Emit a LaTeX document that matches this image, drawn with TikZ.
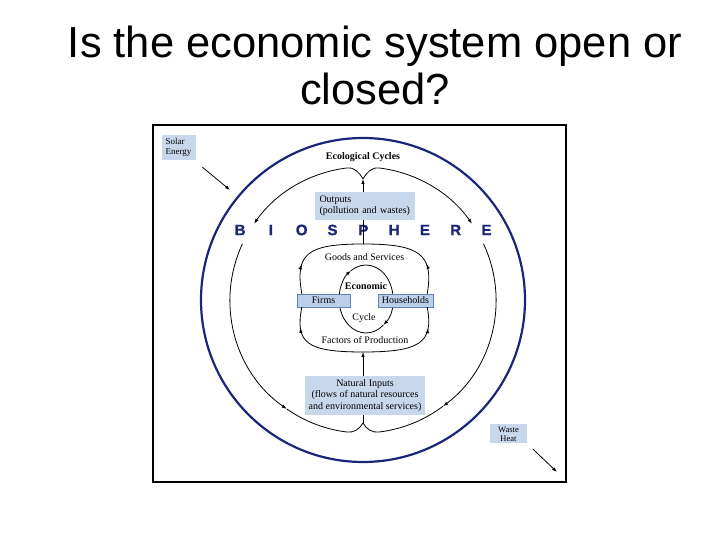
\documentclass[tikz,border=0pt]{standalone}
\usepackage{fontspec}
\setmainfont{Liberation Serif}
\newfontfamily\headfont{Liberation Sans}
\newfontfamily\blackfont[FakeBold=1.2]{Liberation Sans Bold}
\usetikzlibrary{arrows.meta,positioning,calc,decorations.markings}
\definecolor{biosphere}{RGB}{28,38,120}
\definecolor{boxblue}{RGB}{200,216,236}
\definecolor{econblue}{RGB}{188,207,232}
\definecolor{econedge}{RGB}{100,130,175}

\begin{document}
\begin{tikzpicture}[
  x=1pt, y=1pt,
  tag/.style={fill=boxblue, inner sep=0pt, font=\fontsize{10}{11}\selectfont},
  econbox/.style={draw=econedge, fill=econblue, inner sep=0pt, minimum height=13pt, font=\fontsize{10}{11}\selectfont},
  caption/.style={font=\fontsize{10}{11}\selectfont},
  letter/.style={font=\blackfont\fontsize{15}{15}\selectfont, text=biosphere},
  flow/.style={line width=0.8pt},
  arrow/.style={flow, -{Latex[length=5pt,width=3.5pt]}},
  midarrow/.style={flow, postaction={decorate}, decoration={markings, mark=at position #1 with {\arrow{Latex[length=5pt,width=3.5pt]}}}}
]
\useasboundingbox (0,0) rectangle (720,540);

% title
\node[font=\headfont\fontsize{43.5}{47}\selectfont, anchor=base] (title1) at (375,482) {Is the economic system open or};
\node[font=\headfont\fontsize{43.5}{47}\selectfont, anchor=base] (title2) at (375,435) {closed?};

% frame and biosphere
\draw[line width=2pt] (153,58) rectangle (566,415);
\coordinate (c) at (363,240);
\draw[biosphere, line width=2.2pt] (c) circle[radius=162];
\foreach \ch [count=\i from -4] in {B,I,O,S,P,H,E,R,E}
  \node[letter] (bio\i) at (363.3+30.8*\i,310) {\ch};

% outer labels
\node[tag, align=left, minimum width=34pt, minimum height=25pt, font=\fontsize{9}{10}\selectfont] (solar) at (178.5,392.5) {Solar\\Energy};
\node[tag, align=center, minimum width=37pt, minimum height=19pt, font=\fontsize{8.5}{9}\selectfont] (heat) at (508.5,106) {Waste\\Heat};
\coordinate (sunin) at (230,350);
\coordinate (heatout) at (557,68);
\draw[arrow, shorten <=11pt] (solar) -- (sunin);
\draw[arrow, shorten <=8pt] (heat.south east) -- (heatout);

% ecological cycles
\node[caption, font=\fontsize{10}{11}\selectfont\bfseries] (eco) at (363,383) {Ecological Cycles};
\node[tag, minimum width=100pt, minimum height=28pt, text width=91pt, align=left] (outputs) at (365,334) {Outputs\\(pollution and wastes)};
\node[tag, align=center, minimum width=120pt, minimum height=39pt, font=\fontsize{10}{11.5}\selectfont] (inputs) at (365,144.5) {Natural Inputs\\(flows of natural resources\\and environmental services)};
\coordinate (jtop) at (363,361);
\coordinate (jbot) at (363,117);
\draw[arrow] (outputs.north -| jtop) -- (jtop);
\draw[flow] (inputs.south -| jbot) -- (jbot);
\draw[arrow] (jtop) to[out=120, in=7] ($(c)+(97:133)$) arc[start angle=97, end angle=145, radius=133];
\draw[arrow] (jtop) to[out=60, in=173] ($(c)+(83:133)$) arc[start angle=83, end angle=35, radius=133];
\draw[arrow] ($(c)+(155:133)$) arc[start angle=155, end angle=235, radius=133];
\draw[flow] ($(c)+(235:133)$) arc[start angle=235, end angle=263, radius=133] to[out=-7, in=240] (jbot);
\draw[arrow] ($(c)+(25:133)$) arc[start angle=25, end angle=-53, radius=133];
\draw[flow] ($(c)+(-53:133)$) arc[start angle=-53, end angle=-83, radius=133] to[out=187, in=300] (jbot);

% economic cycle
\coordinate (ecoc) at (366,241);
\draw[arrow] ($(ecoc)+(230:27 and 34)$) arc[start angle=230, end angle=124, x radius=27, y radius=34];
\draw[arrow] ($(ecoc)+(124:27 and 34)$) arc[start angle=124, end angle=-50, x radius=27, y radius=34];
\draw[flow] ($(ecoc)+(-50:27 and 34)$) arc[start angle=-50, end angle=-130, x radius=27, y radius=34];
\node[econbox, minimum width=53pt] (firms) at (323.5,239.5) {Firms};
\node[econbox, minimum width=55pt] (households) at (405.5,239.5) {Households};
\node[caption, font=\fontsize{10}{11}\selectfont\bfseries] (econ) at (366,254) {Economic};
\node[caption] (cycle) at (364,222) {Cycle};
\node[caption] (goods) at (364.5,283) {Goods and Services};
\node[caption] (factors) at (365,200) {Factors of Production};
\coordinate (gtop) at (363,296);
\coordinate (gbot) at (363,188);
\draw[midarrow=0.3] ([xshift=5pt]firms.north west) .. controls +(-7,40) and +(-56,0) .. (gtop);
\draw[midarrow=0.3] ([xshift=-6pt]households.north east) .. controls +(7,40) and +(56,0) .. (gtop);
\draw[midarrow=0.78] (gbot) .. controls +(-56,0) and +(-7,-36) .. ([xshift=5pt]firms.south west);
\draw[midarrow=0.78] (gbot) .. controls +(56,0) and +(7,-36) .. ([xshift=-6pt]households.south east);
\draw[flow] (gtop) -- (outputs.south -| gtop);
\draw[arrow] (inputs.north -| gbot) -- (gbot);
\end{tikzpicture}
\end{document}
